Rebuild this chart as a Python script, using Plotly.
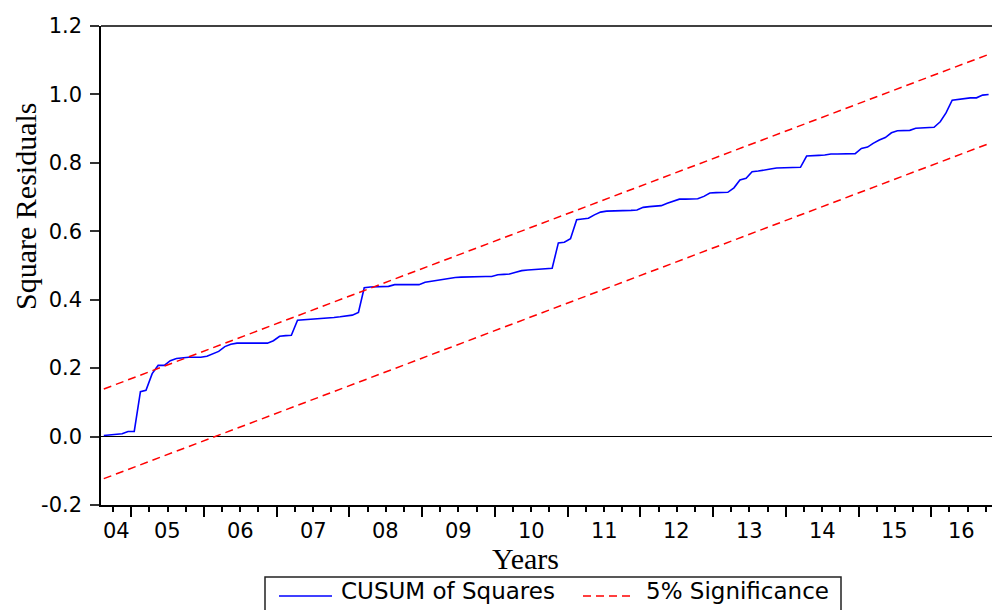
import pandas as pd
import plotly.graph_objects as go

# ---------------- data ----------------
start_month = "2004-08-01"          # first monthly observation
cusum_sq = [
    0.003, 0.005, 0.006, 0.008, 0.015, 0.015, 0.131, 0.135, 0.184, 0.208,
    0.208, 0.222, 0.228, 0.231, 0.232, 0.232, 0.232, 0.235, 0.243, 0.249,
    0.263, 0.270, 0.273, 0.273, 0.273, 0.273, 0.273, 0.273, 0.280, 0.293,
    0.295, 0.296, 0.340, 0.341, 0.342, 0.343, 0.344, 0.346, 0.348, 0.350,
    0.352, 0.355, 0.363, 0.435, 0.437, 0.438, 0.438, 0.439, 0.444, 0.444,
    0.444, 0.444, 0.444, 0.451, 0.454, 0.458, 0.461, 0.463, 0.465, 0.466,
    0.467, 0.468, 0.468, 0.468, 0.468, 0.473, 0.474, 0.475, 0.480, 0.485,
    0.487, 0.488, 0.489, 0.490, 0.492, 0.566, 0.568, 0.578, 0.634, 0.636,
    0.638, 0.648, 0.656, 0.659, 0.659, 0.660, 0.660, 0.661, 0.662, 0.670,
    0.672, 0.673, 0.675, 0.682, 0.689, 0.694, 0.694, 0.695, 0.695, 0.702,
    0.712, 0.713, 0.713, 0.714, 0.727, 0.750, 0.755, 0.774, 0.776, 0.778,
    0.782, 0.785, 0.785, 0.786, 0.786, 0.787, 0.820, 0.822, 0.822, 0.823,
    0.826, 0.826, 0.826, 0.827, 0.827, 0.842, 0.846, 0.857, 0.867, 0.874,
    0.888, 0.894, 0.894, 0.895, 0.901, 0.902, 0.903, 0.904, 0.920, 0.946,
    0.983, 0.985, 0.989, 0.990, 0.990, 0.998, 1.000,
]
sig_upper = [0.139, 1.117]   # at first and last observation
sig_lower = [-0.123, 0.856]

years = list(range(2004, 2017))
year_labels = ["04", "05", "06", "07", "08", "09", "10", "11", "12", "13", "14", "15", "16"]
y_ticks = [-0.2, 0.0, 0.2, 0.4, 0.6, 0.8, 1.0, 1.2]
y_tick_labels = ["-0.2", "0.0", "0.2", "0.4", "0.6", "0.8", "1.0", "1.2"]

series_names = ["CUSUM of Squares", "5% Significance"]
x_title = "Years"
y_title = "Square Residuals"

# ---------------- build ----------------
dates = pd.date_range(start_month, periods=len(cusum_sq), freq="MS") + pd.Timedelta(days=14)
x_range = [pd.Timestamp(start_month), pd.Timestamp(start_month) + pd.DateOffset(months=len(cusum_sq))]

BLUE = "#0000ff"
RED = "#ff0000"
SANS = "DejaVu Sans, Arial, sans-serif"
SERIF = "Liberation Serif, Times New Roman, serif"

fig = go.Figure()
fig.add_trace(go.Scatter(x=dates, y=cusum_sq, mode="lines", name=series_names[0],
                         line=dict(color=BLUE, width=1.6), showlegend=False))
for band in (sig_upper, sig_lower):
    fig.add_trace(go.Scatter(x=[dates[0], dates[-1]], y=band, mode="lines", name=series_names[1],
                             line=dict(color=RED, width=1.5, dash="8px,5px"), showlegend=False))

# plot-area geometry (pixels) used for paper-coordinate placement
L, R, T, B = 101, 992, 26, 505
W, H = R - L, B - T
def px(x): return (x - L) / W
def py(y): return (B - y) / H

annotations = []
# year labels centred in the visible part of each year
for yr, lab in zip(years, year_labels):
    a = max(pd.Timestamp(f"{yr}-01-01"), x_range[0])
    b = min(pd.Timestamp(f"{yr + 1}-01-01"), x_range[1])
    mid = a + (b - a) / 2
    annotations.append(dict(x=mid, y=py(531), xref="x", yref="paper", text=lab, showarrow=False,
                            xanchor="center", yanchor="middle", font=dict(family=SANS, size=21, color="black")))

annotations.append(dict(x=px(525), y=py(558), xref="paper", yref="paper", text=x_title, showarrow=False,
                        xanchor="center", yanchor="middle", font=dict(family=SERIF, size=30, color="black")))
annotations.append(dict(x=px(25), y=py(207), xref="paper", yref="paper", text=y_title, showarrow=False,
                        textangle=-90, xanchor="center", yanchor="middle",
                        font=dict(family=SERIF, size=30, color="black")))
# legend texts
annotations.append(dict(x=px(339), y=py(591), xref="paper", yref="paper", text=series_names[0], showarrow=False,
                        xanchor="left", yanchor="middle", font=dict(family=SANS, size=23, color="black")))
annotations.append(dict(x=px(644), y=py(591), xref="paper", yref="paper", text=series_names[1], showarrow=False,
                        xanchor="left", yanchor="middle", font=dict(family=SANS, size=23, color="black")))

shapes = [
    dict(type="line", xref="paper", yref="paper", x0=0, x1=1, y0=1, y1=1, line=dict(color="black", width=1.5)),
    dict(type="rect", xref="paper", yref="paper", x0=px(265), x1=px(841), y0=py(616), y1=py(577),
         line=dict(color="#222222", width=1.5), fillcolor="white"),
    dict(type="line", xref="paper", yref="paper", x0=px(279), x1=px(332), y0=py(596), y1=py(596),
         line=dict(color=BLUE, width=1.5)),
    dict(type="line", xref="paper", yref="paper", x0=px(583), x1=px(634), y0=py(596), y1=py(596),
         line=dict(color=RED, width=1.5, dash="8px,5px")),
]

fig.update_layout(
    width=992, height=610,
    margin=dict(l=L, r=992 - R, t=T, b=610 - B, pad=0),
    plot_bgcolor="white", paper_bgcolor="white",
    showlegend=False,
    annotations=annotations,
    shapes=shapes,
    xaxis=dict(
        type="date", range=x_range, showgrid=False, zeroline=False,
        showline=True, linecolor="black", linewidth=1.5,
        tickmode="array", tickvals=[pd.Timestamp(f"{yr}-01-01") for yr in years[1:]],
        ticks="outside", ticklen=10, tickwidth=1.5, tickcolor="black",
        showticklabels=False,
        minor=dict(ticks="outside", ticklen=5, tickwidth=1.5, tickcolor="black",
                   dtick="M3", tick0="2004-01-01", showgrid=False),
    ),
    yaxis=dict(
        range=[-0.2, 1.2], showgrid=False,
        zeroline=True, zerolinecolor="black", zerolinewidth=1,
        showline=True, linecolor="black", linewidth=1.5,
        tickmode="array", tickvals=y_ticks, ticktext=y_tick_labels,
        ticks="outside", ticklen=9, tickwidth=1.5, tickcolor="#333333",
        ticklabelstandoff=4,
        tickfont=dict(family=SANS, size=21, color="black"),
    ),
)

fig.write_html("out.html")
